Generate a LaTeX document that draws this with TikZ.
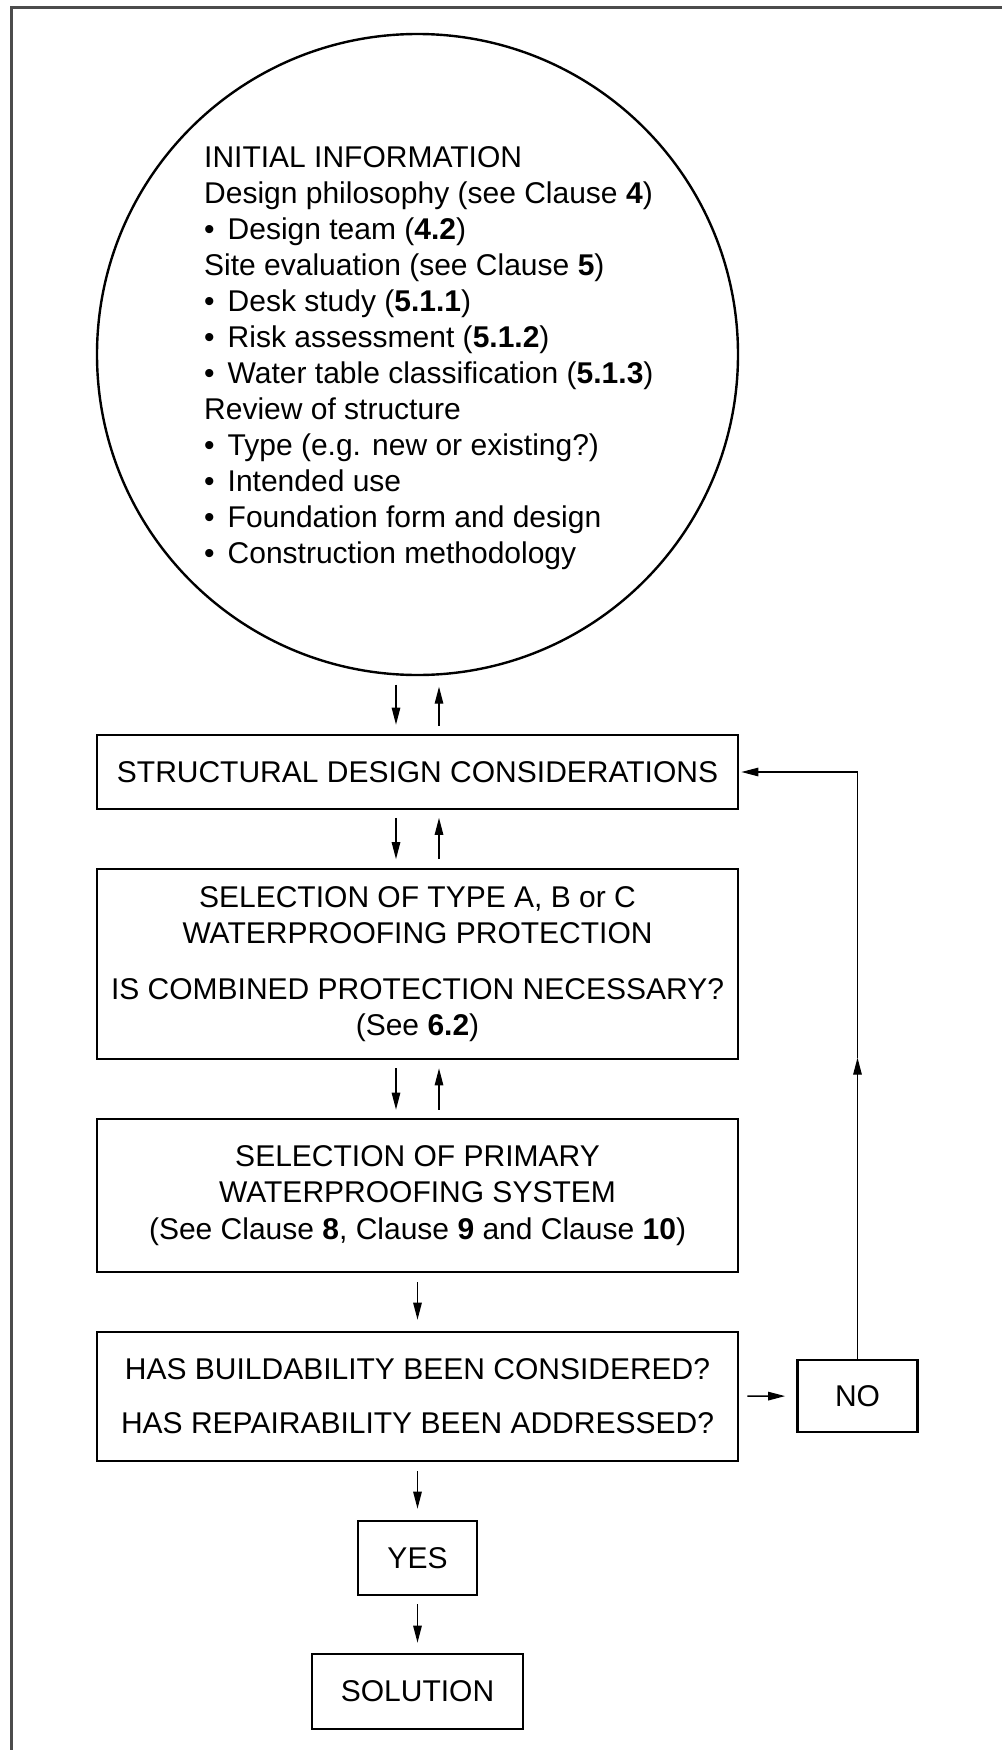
\documentclass[tikz,border=0pt]{standalone}
\usepackage{fontspec}
\setmainfont{Liberation Sans}
\usetikzlibrary{arrows.meta,calc}
\newcommand{\bul}{•\hspace{13pt}}
\begin{document}
\begin{tikzpicture}[x=1pt,y=-1pt,
  txt/.style={font=\fontsize{30}{36.3}\selectfont},
  box/.style={draw, line width=2.7pt, minimum width=641pt, inner sep=0pt, align=center, txt},
  arr/.style={line width=1.3pt, -{Triangle[length=17pt,width=8.5pt]}},
  frameline/.style={draw=black!70, line width=2.5pt},
  ]
\useasboundingbox (0,0) rectangle (1002,1750);
% frame (top and left edges only)
\coordinate (fbl) at (11.5,1750);
\coordinate (ftl) at (11.5,7.5);
\coordinate (ftr) at (1002,7.5);
\draw[frameline] (fbl) -- (ftl) -- (ftr);

% initial information circle
\node[circle, draw, line width=2.4pt, minimum size=641pt, inner sep=0pt] (info) at (417.5,354.5) {};
\node[anchor=west, align=left, inner sep=0pt, font=\fontsize{30}{36}\selectfont] (infotext) at (204,358.5) {%
INITIAL INFORMATION\\
Design philosophy (see Clause \textbf{4})\\
\bul Design team (\textbf{4.2})\\
Site evaluation (see Clause \textbf{5})\\
\bul Desk study (\textbf{5.1.1})\\
\bul Risk assessment (\textbf{5.1.2})\\
\bul Water table classification (\textbf{5.1.3})\\
Review of structure\\
\bul Type (e.g. new or existing?)\\
\bul Intended use\\
\bul Foundation form and design\\
\bul Construction methodology};

% boxes
\node[box, minimum height=74pt] (sdc) at (417.5,772) {STRUCTURAL DESIGN CONSIDERATIONS};
\node[box, minimum height=190pt] (sel) at (417.5,964) {SELECTION OF TYPE A, B or C\\WATERPROOFING PROTECTION\\[19pt]IS COMBINED PROTECTION NECESSARY?\\(See \textbf{6.2})};
\node[box, minimum height=153pt] (prim) at (417.5,1195.5) {SELECTION OF PRIMARY\\WATERPROOFING SYSTEM\\(See Clause \textbf{8}, Clause \textbf{9} and Clause \textbf{10})};
\node[box, minimum height=129pt] (has) at (417.5,1396.5) {HAS BUILDABILITY BEEN CONSIDERED?\\[18pt]HAS REPAIRABILITY BEEN ADDRESSED?};
\node[box, minimum width=120pt, minimum height=72pt] (no) at (857.5,1396) {NO};
\node[box, minimum width=119pt, minimum height=74pt] (yes) at (417.5,1558) {YES};
\node[box, minimum width=211pt, minimum height=75pt] (sol) at (417.5,1691.5) {SOLUTION};

% two-way arrows
\draw[arr, shorten <=8.5pt, shorten >=9pt] ([xshift=-21.5pt]info.south) -- ([xshift=-21.5pt]sdc.north);
\draw[arr, shorten <=8pt, shorten >=10.5pt] ([xshift=21.5pt]sdc.north) -- ([xshift=21.5pt]info.south);
\draw[arr, shorten <=7.5pt, shorten >=8.5pt] ([xshift=-21.5pt]sdc.south) -- ([xshift=-21.5pt]sel.north);
\draw[arr, shorten <=8.5pt, shorten >=7.5pt] ([xshift=21.5pt]sel.north) -- ([xshift=21.5pt]sdc.south);
\draw[arr, shorten <=8pt, shorten >=8pt] ([xshift=-21.5pt]sel.south) -- ([xshift=-21.5pt]prim.north);
\draw[arr, shorten <=8pt, shorten >=8pt] ([xshift=21.5pt]prim.north) -- ([xshift=21.5pt]sel.south);

% one-way arrows
\draw[arr, shorten <=9pt, shorten >=11pt] (prim) -- (has);
\draw[arr, shorten <=9pt, shorten >=11pt] (has) -- (yes);
\draw[arr, shorten <=8pt, shorten >=10pt] (yes) -- (sol);
\draw[arr, shorten <=8pt, shorten >=11pt] (has) -- (no);

% loop back from NO
\path (no.north) ++(0,-301) coordinate (loopmid);
\draw[arr] (no.north) -- (loopmid);
\draw[arr, shorten >=2pt] (loopmid) |- (sdc.east);
\end{tikzpicture}
\end{document}
